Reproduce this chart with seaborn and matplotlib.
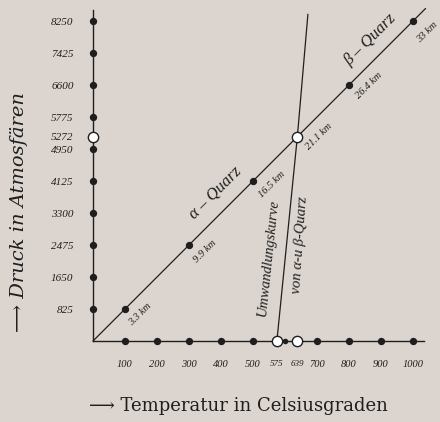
import matplotlib
matplotlib.use("Agg")
import matplotlib.pyplot as plt
import seaborn as sns
import pandas as pd

# ---- data ----
x_ticks = [100, 200, 300, 400, 500, 700, 800, 900, 1000]
x_small = [600]
x_tick_labels = ["100", "200", "300", "400", "500", "575", "639", "700", "800", "900", "1000"]
x_tick_label_pos = [100, 200, 300, 400, 500, 575, 639, 700, 800, 900, 1000]
x_open = [575, 639]
y_ticks = [825, 1650, 2475, 3300, 4125, 4950, 5775, 6600, 7425, 8250]
y_open = [5272]
y_tick_labels = ["825", "1650", "2475", "3300", "4125", "4950", "5272", "5775", "6600", "7425", "8250"]
y_tick_label_pos = [825, 1650, 2475, 3300, 4125, 4950, 5272, 5775, 6600, 7425, 8250]

quarz_line_t = [0, 1040]
quarz_line_p = [0, 8580]
quarz_pts_t = [100, 300, 500, 800, 1000]
quarz_pts_p = [825, 2475, 4125, 6600, 8250]
depth_t = [100, 300, 500, 639, 800, 1000]
depth_p = [825, 2475, 4125, 5272, 6600, 8250]
depth_labels = ["3.3 km", "9.9 km", "16.5 km", "21.1 km", "26.4 km", "33 km"]
inter_t = [639]
inter_p = [5272]

umw_t = [575, 639, 672]
umw_p = [0, 5272, 8430]

BG = "#dcd5cf"
INK = "#1e1e1e"

sns.set_theme(style="white")
plt.rcParams["font.family"] = ["Liberation Serif", "DejaVu Serif"]

fig = plt.figure(figsize=(4.4, 4.22), dpi=100, facecolor=BG)
ax = fig.add_axes([93 / 440, 81 / 422, 331 / 440, 331 / 422])
ax.set_facecolor(BG)
ax.set_xlim(0, 1035)
ax.set_ylim(0, 8540)

for s in ["top", "right"]:
    ax.spines[s].set_visible(False)
for s in ["left", "bottom"]:
    ax.spines[s].set_color(INK)
    ax.spines[s].set_linewidth(1.0)

# lines
sns.lineplot(x=quarz_line_t, y=quarz_line_p, ax=ax, color=INK, lw=0.9, clip_on=False)
sns.lineplot(x=umw_t, y=umw_p, ax=ax, color=INK, lw=0.9, clip_on=False)

DOT = 28
OPEN = 55
# axis dots
sns.scatterplot(x=x_ticks, y=[0] * len(x_ticks), ax=ax, color=INK, s=DOT,
                linewidth=0, clip_on=False, zorder=5)
sns.scatterplot(x=x_small, y=[0] * len(x_small), ax=ax, color=INK, s=16,
                linewidth=0, clip_on=False, zorder=5)
sns.scatterplot(x=[0] * len(y_ticks), y=y_ticks, ax=ax, color=INK, s=DOT,
                linewidth=0, clip_on=False, zorder=5)
sns.scatterplot(x=x_open, y=[0] * len(x_open), ax=ax, color="white", s=OPEN,
                edgecolor=INK, linewidth=1.0, clip_on=False, zorder=6)
sns.scatterplot(x=[0] * len(y_open), y=y_open, ax=ax, color="white", s=OPEN,
                edgecolor=INK, linewidth=1.0, clip_on=False, zorder=6)
# line dots
sns.scatterplot(x=quarz_pts_t, y=quarz_pts_p, ax=ax, color=INK, s=DOT,
                linewidth=0, clip_on=False, zorder=5)
sns.scatterplot(x=inter_t, y=inter_p, ax=ax, color="white", s=OPEN,
                edgecolor=INK, linewidth=1.0, clip_on=False, zorder=6)

ax.set_xticks(x_tick_label_pos)
ax.set_xticklabels(x_tick_labels, fontsize=7.5, style="italic", color=INK)
ax.set_yticks(y_tick_label_pos)
ax.set_yticklabels(y_tick_labels, fontsize=8, style="italic", color=INK)
ax.tick_params(axis="both", length=0)
ax.tick_params(axis="x", pad=14)
ax.tick_params(axis="y", pad=14)
for lab in ax.get_xticklabels():
    if lab.get_text() in ("575", "639"):
        lab.set_fontsize(6.5)

ax.set_xlabel("⟶ Temperatur in Celsiusgraden", fontsize=13, color=INK,
              family=["DejaVu Serif"])
ax.xaxis.set_label_coords(0.44, -0.17)
ax.set_ylabel("⟶ Druck in Atmosfären", fontsize=14, color=INK,
              family=["DejaVu Serif"], style="italic")
ax.yaxis.set_label_coords(-0.195, 0.39)

# depth labels
offsets = [(15, -5), (16, -6), (19, -3), (22, 0), (20, 0), (14, -11)]
for t, p, lab, off in zip(depth_t, depth_p, depth_labels, offsets):
    ax.annotate(lab, (t, p), xytext=off, textcoords="offset pixels",
                rotation=45, ha="center", va="center", fontsize=7.5,
                style="italic", color=INK, annotation_clip=False)

ax.text(381, 3816, "α – Quarz", rotation=45, ha="center", va="center",
        fontsize=12, style="italic", color=INK)
ax.text(866, 7760, "β – Quarz", rotation=45, ha="center", va="center",
        fontsize=12, style="italic", color=INK)
ax.text(547, 2140, "Umwandlungskurve", rotation=84, ha="center", va="center",
        fontsize=10.5, style="italic", color=INK)
ax.text(647, 2475, "von α-u β-Quarz", rotation=86, ha="center", va="center",
        fontsize=10.5, style="italic", color=INK)

fig.savefig("out.png", dpi=100, facecolor=BG)
